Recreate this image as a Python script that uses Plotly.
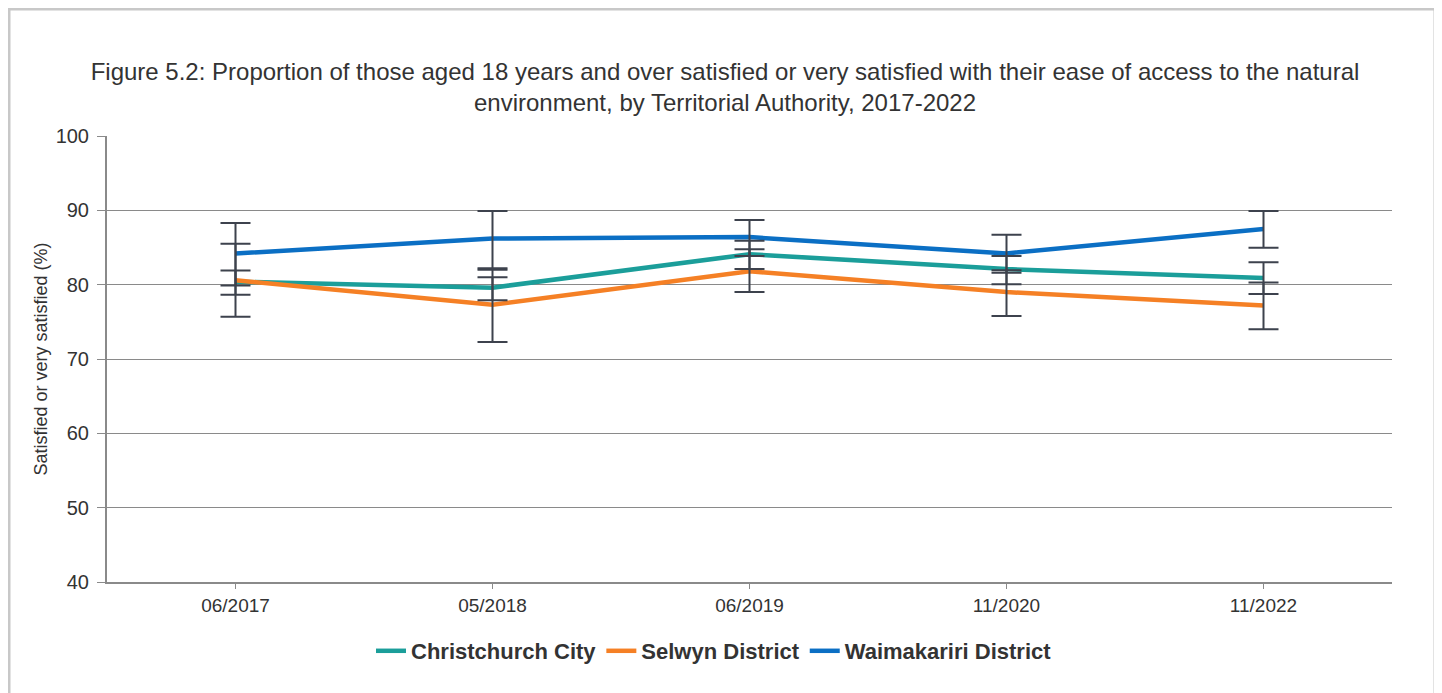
import plotly.graph_objects as go

periods = ["06/2017", "05/2018", "06/2019", "11/2020", "11/2022"]

series_names = ["Christchurch City", "Selwyn District", "Waimakariri District"]
series_colors = ["#1b9e9a", "#f58025", "#0b6fc4"]

christchurch = [80.4, 79.6, 84.1, 82.1, 80.9]
selwyn = [80.6, 77.3, 81.8, 79.0, 77.2]
waimakariri = [84.2, 86.2, 86.4, 84.2, 87.5]

# confidence interval bounds
christchurch_hi = [81.9, 81.0, 85.9, 83.85, 83.0]
christchurch_lo = [78.65, 77.9, 82.1, 80.05, 78.75]
selwyn_hi = [85.5, 82.0, 84.75, 81.95, 80.3]
selwyn_lo = [75.7, 72.3, 79.0, 75.8, 74.0]
waimakariri_hi = [88.3, 89.9, 88.7, 86.7, 89.9]
waimakariri_lo = [79.9, 82.2, 83.85, 81.6, 84.95]

values = [christchurch, selwyn, waimakariri]
highs = [christchurch_hi, selwyn_hi, waimakariri_hi]
lows = [christchurch_lo, selwyn_lo, waimakariri_lo]

font_family = "Liberation Sans, Arial, sans-serif"
text_color = "#333333"
axis_color = "#8a8a8a"

# page body has an 8px margin, so the figure is laid out 8px in from the window
W, H = 1434, 685
L, T, R, B = 99, 128, 50, 111
plot_w = W - L - R
plot_h = H - T - B

fig = go.Figure()

for name, color, vals in zip(series_names, series_colors, values):
    fig.add_trace(go.Scatter(
        x=periods, y=vals,
        mode="lines",
        name=name,
        line=dict(color=color, width=4.5),
    ))

for vals, hi, lo in zip(values, highs, lows):
    fig.add_trace(go.Scatter(
        x=periods, y=vals,
        mode="markers",
        marker=dict(size=1, color="rgba(0,0,0,0)"),
        showlegend=False,
        hoverinfo="skip",
        error_y=dict(
            type="data",
            symmetric=False,
            array=[h - v for h, v in zip(hi, vals)],
            arrayminus=[v - l for l, v in zip(lo, vals)],
            color="#3d424d",
            thickness=2,
            width=15,
        ),
    ))

# light grey frame around the chart
fig.add_shape(
    type="rect", xref="paper", yref="paper",
    x0=(1 - L) / plot_w, x1=(1427 - L) / plot_w,
    y0=(T + plot_h - (H + 20)) / plot_h, y1=(T + plot_h - 1) / plot_h,
    line=dict(color="#c8c8c8", width=3),
    layer="below",
)

fig.update_layout(
    width=W, height=H,
    margin=dict(l=L, r=R, t=T, b=B),
    paper_bgcolor="white",
    plot_bgcolor="white",
    font=dict(family=font_family, color=text_color),
    title=dict(
        text="Figure 5.2: Proportion of those aged 18 years and over satisfied or very satisfied with their ease of access to the natural<br>environment, by Territorial Authority, 2017-2022",
        x=717 / W, xanchor="center",
        y=1 - 72 / H, yanchor="middle",
        font=dict(size=24, color=text_color, family=font_family),
    ),
    xaxis=dict(
        type="category",
        range=[-0.5, len(periods) - 0.5],
        showgrid=False,
        showline=True, linecolor=axis_color, linewidth=2,
        ticks="outside", ticklen=5, tickcolor=axis_color,
        tickfont=dict(size=19, color=text_color),
    ),
    yaxis=dict(
        range=[40, 100],
        dtick=10,
        showgrid=True, gridcolor=axis_color, gridwidth=1,
        showline=True, linecolor=axis_color, linewidth=2,
        ticks="outside", ticklen=8, tickcolor=axis_color,
        ticklabelstandoff=4,
        tickfont=dict(size=20, color=text_color),
        zeroline=False,
        title=dict(text="Satisfied or very satisfied (%)",
                   font=dict(size=18, color=text_color), standoff=3),
    ),
    legend=dict(
        orientation="h",
        x=(706 - L) / plot_w, xanchor="center",
        y=(T + plot_h - 643) / plot_h, yanchor="middle",
        font=dict(size=22, color=text_color, family=font_family, weight="bold"),
        itemwidth=30,
    ),
    showlegend=True,
)

fig.write_html("out.html")
